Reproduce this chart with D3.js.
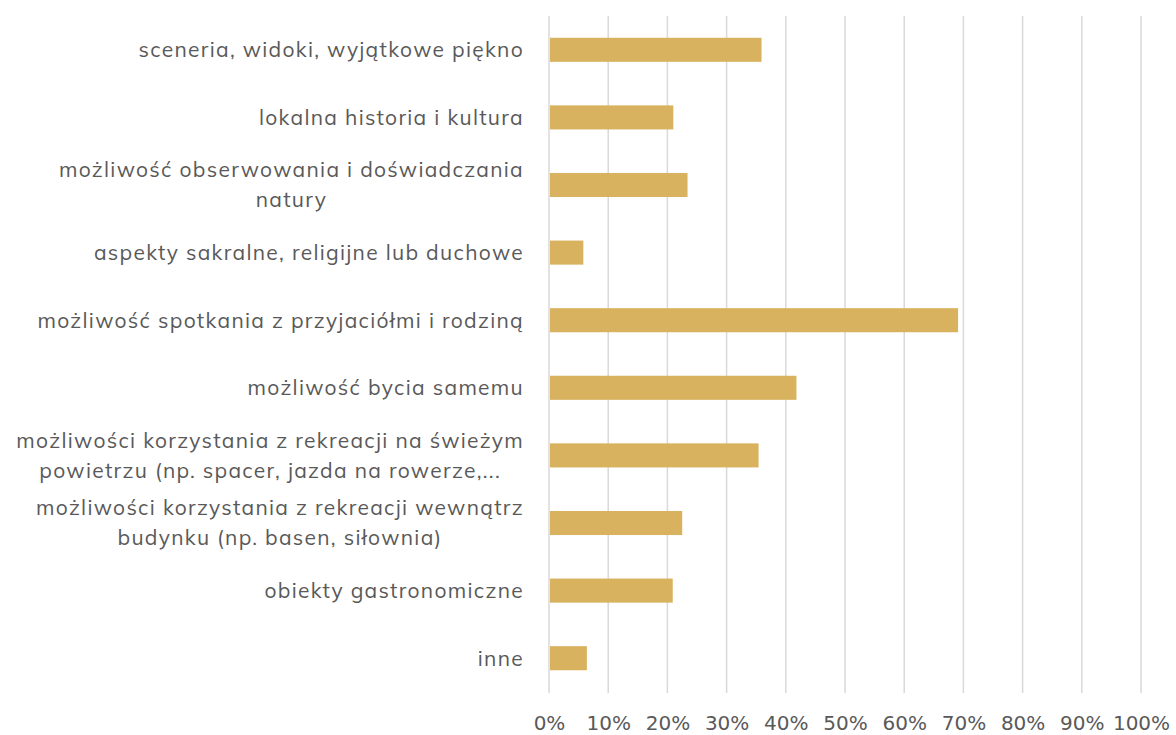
<!DOCTYPE html>
<html>
<head>
<meta charset="utf-8">
<script src="https://cdn.jsdelivr.net/npm/d3@7"></script>
<style>
  body { margin: 0; background: #fff; }
</style>
</head>
<body>
<div id="canvas"></div>
<script>
// Data

let categories = [
  "sceneria, widoki, wyjątkowe piękno",
  "lokalna historia i kultura",
  "możliwość obserwowania i doświadczania\nnatury",
  "aspekty sakralne, religijne lub duchowe",
  "możliwość spotkania z przyjaciółmi i rodziną",
  "możliwość bycia samemu",
  "możliwości korzystania z rekreacji na świeżym\npowietrzu (np. spacer, jazda na rowerze,...",
  "możliwości korzystania z rekreacji wewnątrz\nbudynku (np. basen, siłownia)",
  "obiekty gastronomiczne",
  "inne"
];
let values = [0.359, 0.210, 0.234, 0.058, 0.691, 0.418, 0.354, 0.225, 0.209, 0.064];
let ticks = [0, 0.1, 0.2, 0.3, 0.4, 0.5, 0.6, 0.7, 0.8, 0.9, 1.0];

// Dimensions

let W = 1176, H = 735;
let margin = {top: 16, right: 35, bottom: 43, left: 549};
let width = W - margin.left - margin.right;
let height = H - margin.top - margin.bottom;

let textColor = "#595959";
let barColor = "#D8B25E";
let gridColor = "#D9D9D9";
let font = "Mulish, Muli, 'Noto Sans', sans-serif";

let svg = d3.select("#canvas")
  .append("svg")
  .attr("width", W)
  .attr("height", H)
  .append("g")
  .attr("transform", "translate(" + margin.left + ", " + margin.top + ")");

// Scales

let xScale = d3.scaleLinear().domain([0, 1]).range([0, width]);
let yScale = d3.scaleBand()
  .domain(categories)
  .range([0, height])
  .paddingInner(0.644)
  .paddingOuter(0.322);

// Gridlines

svg.append("g")
  .selectAll("line")
  .data(ticks)
  .join("line")
  .attr("x1", d => xScale(d))
  .attr("x2", d => xScale(d))
  .attr("y1", 0)
  .attr("y2", height + 1)
  .style("stroke", gridColor)
  .style("stroke-width", 1.5);

// Bars

svg.append("g")
  .selectAll("rect")
  .data(values)
  .join("rect")
  .attr("x", xScale(0) + 1)
  .attr("y", (d, i) => yScale(categories[i]))
  .attr("width", d => xScale(d) - xScale(0) - 1)
  .attr("height", yScale.bandwidth())
  .style("fill", barColor);

// X axis

let xAxis = svg.append("g")
  .attr("transform", "translate(0, " + height + ")")
  .call(d3.axisBottom(xScale).tickValues(ticks).tickFormat(d3.format(".0%")).tickSize(0).tickPadding(24));
xAxis.select(".domain").remove();
xAxis.selectAll("text")
  .style("font-family", "'DejaVu Sans', sans-serif")
  .style("font-size", "20px")
  .style("fill", textColor);

// Category labels

let labelRight = -25;
let lineH = 30;
let labels = svg.append("g");
categories.forEach((c, i) => {
  let lines = c.split("\n");
  let cy = yScale(c) + yScale.bandwidth() / 2;
  let t = labels.append("text")
    .style("font-family", font)
    .style("font-size", "21px")
    .style("letter-spacing", "1.3px")
    .style("fill", textColor)
    .attr("text-anchor", "middle");
  lines.forEach((l, j) => {
    t.append("tspan")
      .attr("y", cy + (j - (lines.length - 1) / 2) * lineH)
      .attr("dy", "0.35em")
      .text(l);
  });
  let maxW = d3.max(t.selectAll("tspan").nodes(), n => n.getComputedTextLength());
  t.selectAll("tspan").attr("x", labelRight - maxW / 2);
});
</script>
</body>
</html>
